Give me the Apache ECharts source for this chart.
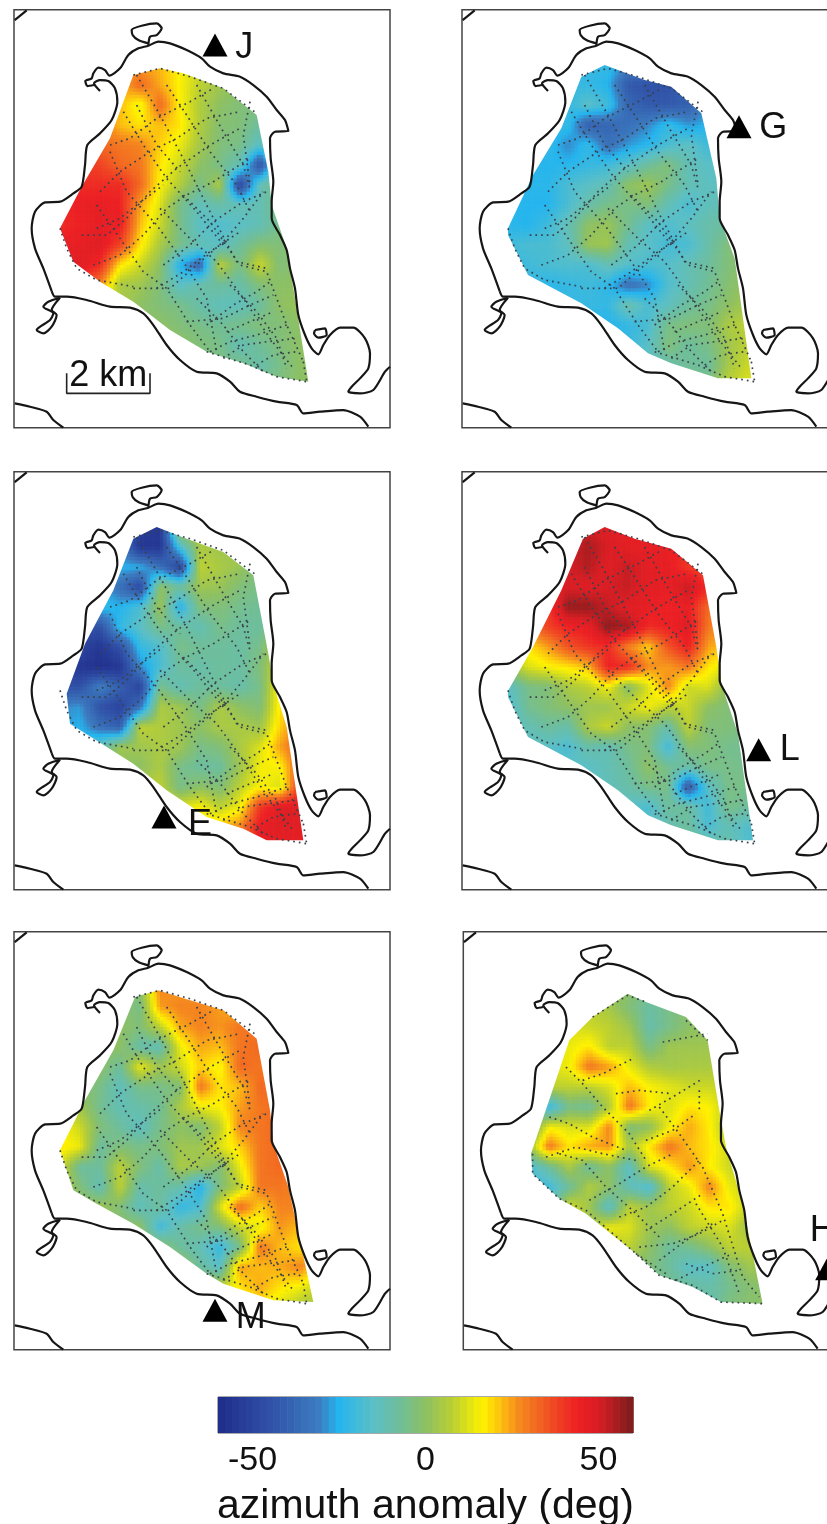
<!DOCTYPE html>
<html><head><meta charset="utf-8">
<style>html,body{margin:0;padding:0;background:#fff;overflow:hidden}#c{width:827px;height:1524px}</style>
<script src="https://cdn.jsdelivr.net/npm/echarts@6/dist/echarts.min.js"></script>
</head><body><div id="c"></div>
<script>
const n = null;
// Grid node positions of the sampled field (map units)
const nodeX = [150,210,270,330,390,450,510,570,630,690,750,810,870,930];
const nodeY = [180,240,300,360,420,480,540,600,660,720,780,840,900,960,1020,1080,1140];

// azimuth anomaly (deg)
const fieldJ = [
[n,n,n,n,25,22,16,10,n,n,n,n,n,n],
[n,n,n,22,32,24,16,8,3,0,n,n,n,n],
[n,n,n,22,14,32,16,6,0,-3,-3,n,n,n],
[n,n,30,22,18,22,18,6,-2,-3,-8,-3,n,n],
[n,n,32,30,28,20,14,4,-3,-5,-15,-3,n,n],
[n,40,38,32,30,18,10,0,-5,-12,-45,-3,n,n],
[n,42,42,42,32,16,6,-5,5,-50,-12,-3,n,n],
[42,45,46,44,25,12,-5,-13,-10,-12,-12,-3,n,n],
[42,44,46,45,22,10,-5,-15,-17,-15,-12,-5,0,n],
[45,46,48,38,18,5,-5,-12,-15,-8,-2,-3,0,n],
[n,48,42,18,10,0,-25,-38,8,-5,10,-3,0,n],
[n,n,28,5,3,-3,-15,-10,-8,-10,-3,0,0,n],
[n,n,n,5,0,-3,-5,-10,-13,-13,-8,0,2,n],
[n,n,n,n,0,0,-3,-5,-7,-5,-3,-3,0,n],
[n,n,n,n,n,0,0,-3,-5,-12,-7,-3,0,0],
[n,n,n,n,n,n,n,-3,-5,-5,-10,-5,0,0],
[n,n,n,n,n,n,n,n,n,-3,-5,-3,0,0]];
const fieldG = [
[n,n,n,n,-22,-22,-30,-28,n,n,n,n,n,n],
[n,n,n,-22,-22,-25,-42,-45,-45,-38,n,n,n,n],
[n,n,n,-22,-15,-20,-38,-42,-42,-40,-30,n,n,n],
[n,n,-22,-22,-40,-38,-35,-30,-22,-28,-25,n,n,n],
[n,n,-22,-30,-22,-35,-28,-24,-18,-14,-20,-18,n,n],
[n,-24,-25,-24,-22,-20,-15,-8,-3,-12,-15,-15,n,n],
[n,-24,-24,-18,-15,-12,0,3,-5,-12,-14,-14,n,n],
[-24,-25,-25,-18,-10,-5,-5,-3,-12,-18,-13,-12,n,n],
[-24,-25,-20,-12,0,2,-6,-15,-17,-14,-10,-8,n,n],
[-20,-18,-18,-14,2,3,-12,-15,-19,-18,-10,-3,n,n],
[-22,-20,-18,-17,-18,-12,-16,-18,-16,-12,-8,-3,0,n],
[n,-22,-24,-22,-20,-23,-35,-30,-17,-12,-7,-2,2,n],
[n,n,n,-22,-22,-22,-10,-18,-14,-8,-5,0,4,n],
[n,n,n,n,-24,-25,-22,-18,-5,-3,-3,5,8,n],
[n,n,n,n,n,-24,-22,-15,-3,-8,-5,3,8,n],
[n,n,n,n,n,n,-20,-15,-10,-7,-8,4,10,n],
[n,n,n,n,n,n,n,n,-8,-6,-4,8,12,n]];
const fieldE = [
[n,n,n,n,-52,-55,8,8,n,n,n,n,n,n],
[n,n,n,-30,-55,-55,-18,5,3,3,n,n,n,n],
[n,n,n,-25,-25,-35,-50,8,5,2,-3,n,n,n],
[n,n,-25,-35,-48,0,-8,3,2,-3,-5,n,n,n],
[n,n,-22,-25,-18,3,-25,-3,-3,-6,-7,n,n,n],
[n,-45,-45,-22,-15,-5,-8,-12,-5,-8,-8,n,n,n],
[n,-50,-55,-45,-22,-17,-5,-7,-8,-9,-5,10,n,n],
[-50,-55,-58,-55,-30,-18,-8,-10,-8,-9,-3,12,n,n],
[-45,-45,-30,-40,-50,-5,-12,-8,-8,-10,-5,18,25,n],
[-30,-28,-45,-50,-35,5,3,-5,5,0,-3,18,28,n],
[-28,-25,-35,-40,8,6,3,0,5,5,3,20,30,n],
[n,-22,-12,3,3,5,3,-5,-3,5,12,25,33,n],
[n,n,n,0,0,5,-5,-8,-8,3,15,16,35,n],
[n,n,n,n,5,8,-5,0,-3,8,16,12,40,n],
[n,n,n,n,n,10,12,16,8,15,40,48,48,n],
[n,n,n,n,n,n,15,18,22,28,46,48,47,n],
[n,n,n,n,n,n,n,n,n,28,46,46,46,n]];
const fieldL = [
[n,n,n,n,50,48,46,46,n,n,n,n,n,n],
[n,n,n,50,55,50,47,46,45,42,n,n,n,n],
[n,n,n,50,54,48,52,47,46,40,35,n,n,n],
[n,n,45,50,48,50,52,47,46,52,42,30,n,n],
[n,n,40,57,57,52,48,46,44,45,32,28,n,n],
[n,30,38,44,46,58,55,42,44,48,30,25,n,n],
[n,18,25,35,40,42,28,20,35,44,25,20,n,n],
[2,12,16,18,22,44,42,27,25,30,18,12,n,n],
[-15,-5,-3,5,8,15,-2,12,28,10,12,0,n,n],
[-18,-6,-3,0,3,3,10,15,8,10,0,-3,n,n],
[-16,-12,-8,-10,5,10,0,-2,-10,8,-3,-3,-5,n],
[n,-15,-15,-18,-10,-12,-5,-3,-20,-2,-3,-6,-6,n],
[n,n,n,-15,-15,-12,-8,0,-6,-10,-5,-5,-6,n],
[n,n,n,n,-14,-13,-10,-5,-5,-42,-15,-5,-5,n],
[n,n,n,n,n,-15,-15,-18,-8,-8,-20,-5,-8,n],
[n,n,n,n,n,n,-15,-15,-12,-8,-18,-12,-17,n],
[n,n,n,n,n,n,n,n,-12,-8,-8,-10,-17,n]];
const fieldM = [
[n,n,n,n,0,28,25,25,n,n,n,n,n,n],
[n,n,n,0,-5,25,28,28,25,22,n,n,n,n],
[n,n,n,0,-3,8,24,28,26,30,30,n,n,n],
[n,n,0,0,-10,-12,14,24,22,30,32,30,n,n],
[n,n,0,-8,14,3,10,20,15,32,30,30,n,n],
[n,0,-5,-13,-5,-5,-3,30,18,22,32,30,n,n],
[n,3,-6,-12,-10,-7,5,14,16,25,30,32,n,n],
[16,10,-3,-8,-14,-5,0,-3,8,28,30,32,n,n],
[18,14,-8,-3,-5,-3,3,3,12,20,30,32,n,n],
[12,-8,-8,8,-3,-10,5,3,-3,14,30,32,n,n],
[8,-3,-12,8,-10,-8,-10,-25,-3,8,30,30,28,n],
[n,3,3,-3,-13,-8,-22,-18,12,32,20,28,28,n],
[n,n,n,0,0,-20,-10,-5,-3,10,14,26,22,n],
[n,n,n,n,0,0,-8,-12,-22,-5,30,22,18,n],
[n,n,n,n,n,3,3,-8,-15,25,22,24,28,n],
[n,n,n,n,n,n,5,5,8,18,24,18,15,8],
[n,n,n,n,n,n,n,n,8,14,16,12,5,3]];
const fieldH = [
[n,n,n,n,n,2,0,-3,-3,n,n,n,n,n],
[n,n,n,n,8,4,-3,-9,-5,-2,n,n,n,n],
[n,n,n,12,10,8,3,-10,-5,0,0,n,n,n],
[n,n,n,14,18,8,8,-5,3,3,3,n,n,n],
[n,n,12,15,30,25,14,6,4,5,5,n,n,n],
[n,n,8,8,8,12,22,16,13,10,10,8,n,n],
[n,0,-22,-5,-7,6,30,17,12,18,16,8,n,n],
[n,-8,15,12,12,28,-3,0,15,24,17,5,n,n],
[n,3,30,18,24,26,5,18,30,22,18,10,n,n],
[n,-18,-8,5,-8,0,-15,12,17,26,17,10,5,n],
[n,-20,-20,-8,6,0,-12,-18,8,14,28,14,8,n],
[n,n,-15,12,3,-15,8,3,8,10,18,18,8,n],
[n,n,n,5,5,14,12,3,0,8,10,12,3,n],
[n,n,n,n,n,8,8,0,-8,-6,0,8,8,n],
[n,n,n,n,n,n,0,-3,-8,-15,-15,-3,3,3],
[n,n,n,n,n,n,n,-3,-5,-8,-10,-6,-2,0],
[n,n,n,n,n,n,n,n,n,-8,-12,-3,-1,0]];

// outline of the sampled area in each panel
const hullJ = [[370,210],[450,190],[520,205],[640,250],[740,330],[775,500],[785,600],[830,730],[855,880],[895,1130],[800,1115],[700,1075],[590,1040],[480,975],[370,890],[270,830],[190,770],[150,670],[215,545],[300,400]];
const hullG = [[370,215],[440,180],[560,225],[640,245],[730,325],[775,520],[785,640],[830,760],[880,1120],[780,1120],[640,1075],[570,1045],[480,970],[370,895],[210,810],[145,680],[225,510],[310,370]];
const hullE = [[370,215],[440,180],[530,215],[640,255],[730,325],[775,560],[790,650],[830,780],[880,1120],[770,1120],[700,1085],[590,1050],[470,970],[370,890],[180,770],[170,680],[225,530],[310,370]];
const hullL = [[375,215],[440,180],[530,215],[640,245],[735,325],[775,540],[790,650],[840,800],[885,1120],[780,1120],[640,1075],[570,1045],[480,970],[370,895],[210,810],[145,680],[225,540],[310,370]];
const hullM = [[375,210],[445,190],[540,220],[640,250],[740,335],[780,550],[790,650],[835,780],[910,1125],[790,1120],[640,1070],[590,1040],[480,960],[370,890],[260,830],[190,790],[150,670],[225,520],[310,370]];
const hullH = [[400,270],[505,200],[560,225],[680,270],[745,340],[780,550],[800,660],[850,830],[910,1130],[785,1125],[700,1080],[600,1045],[530,980],[380,860],[300,815],[220,740],[215,680],[300,430],[330,340]];

// coastline pieces
const coastNorth = [[125,858],[100,790],[75,730],[65,670],[75,620],[105,592],[150,590],[190,565],[215,545],[225,480],[232,420],[270,385],[305,345],[322,290],[315,250],[295,228],[270,225],[252,235],[270,258]];
const coastHook = [[252,240],[232,243],[226,228],[245,220],[250,205],[265,188],[285,195],[298,212],[330,190],[355,150],[385,130],[415,122],[445,110],[480,115],[530,135],[575,160],[600,185],[640,205],[690,215],[730,240],[770,275],[800,315],[825,345],[835,378],[795,380],[780,400],[782,460],[790,530],[785,590],[785,640],[810,690],[830,735],[840,790],[855,850],[865,930],[885,990],[905,1030],[925,1048],[940,1020],[960,990],[990,968],[1030,968],[1065,1000],[1080,1045],[1075,1090],[1050,1120],[1025,1145],[1015,1160],[1050,1165],[1090,1155],[1125,1100],[1140,1085]];
const coastIsland = [[415,122],[420,95],[440,90],[455,70],[440,55],[395,62],[365,75],[368,90],[385,105],[415,115]];
const coastSouth = [[125,858],[135,875],[170,875],[230,885],[300,905],[360,908],[400,925],[430,960],[470,1020],[510,1065],[560,1100],[620,1105],[660,1130],[690,1160],[740,1175],[800,1190],[860,1200],[880,1225],[930,1220],[1000,1215],[1050,1235],[1075,1265]];
const coastWestIsland = [[150,878],[115,890],[100,905],[130,925],[120,945],[80,975],[100,985],[125,965],[140,930],[125,915],[150,878]];
const coastEastIsland = [[915,975],[945,970],[950,990],[925,998],[912,985],[915,975]];
const coastCornerNW = [[14,45],[50,16]];
const coastCornerSW = [[14,1195],[60,1205],[110,1220],[130,1245],[160,1268]];
const coastPieces = [coastNorth,coastHook,coastIsland,coastSouth,coastWestIsland,coastEastIsland,coastCornerNW,coastCornerSW];

// ship tracks
const tracksMain = [
[[215,690],[290,690],[350,640],[420,560],[500,490],[600,420],[690,370]],
[[250,780],[330,750],[400,690],[470,610],[530,570],[610,530],[720,460]],
[[370,850],[480,850],[560,780],[640,710],[700,640],[760,560]],
[[530,950],[640,940],[720,900],[790,870]],
[[600,1040],[660,1010],[740,990],[830,960]],
[[270,560],[330,500],[420,440],[500,400],[590,340],[690,320]],
[[300,420],[360,400],[440,340],[540,290],[610,250]],
[[380,210],[450,330],[530,480],[600,620],[680,770],[770,790]],
[[300,440],[350,560],[440,660],[520,770],[590,880],[620,1040]],
[[260,600],[330,700],[400,800],[470,850],[540,960],[600,1040]],
[[560,240],[640,380],[700,480],[720,550]],
[[450,610],[540,700],[620,770],[700,880],[780,1000],[850,1090]],
[[520,570],[600,650],[690,780],[770,800],[830,960],[880,1070]],
[[720,290],[700,390],[720,540]],
[[150,670],[170,730],[200,790],[260,825],[370,845]],
[[370,210],[450,190],[540,215],[640,250],[740,325]],
[[590,1040],[720,1080],[800,1115],[890,1130]],
[[880,1070],[890,1130]],
[[260,670],[330,640],[380,600],[460,540]],
[[440,850],[520,800],[600,740],[690,680]],
[[460,780],[540,720],[610,650],[700,590],[770,560]],
[[590,960],[670,900],[740,860],[780,830]],
[[640,1060],[700,1020],[770,1010],[860,1000]],
[[740,1080],[790,1050],[860,1040]],
[[650,980],[720,950],[790,920]],
[[470,240],[530,330],[600,440],[680,540],[720,620]],
[[340,320],[400,420],[470,520],[560,620],[640,720]],
[[560,880],[640,960],[700,1040],[760,1100]],
[[660,840],[740,920],[800,1000],[830,1090]],
[[380,300],[440,420],[510,500]]];
const tracksH = [
[[400,270],[505,205],[560,225]],[[680,280],[745,340]],[[610,345],[745,320]],
[[220,680],[220,740],[300,815],[380,850],[530,980],[600,1045],[700,1075],[785,1125],[910,1130]],
[[320,420],[370,470],[430,540],[510,620],[560,700]],
[[370,460],[430,440],[520,395]],[[470,500],[540,490],[640,500]],
[[570,550],[640,510],[730,455]],
[[270,570],[330,590],[400,630],[500,670]],
[[560,640],[640,610],[710,560]],
[[300,680],[370,700],[440,780],[520,850],[600,930]],
[[390,820],[480,770],[560,720],[640,680]],
[[480,870],[560,840],[640,780],[720,700]],
[[560,910],[640,860],[730,800]],
[[540,960],[640,950],[720,920],[790,880]],
[[600,540],[660,620],[730,720],[790,860],[850,1050],[900,1110]],
[[680,1010],[760,1040],[840,1030]],[[720,490],[720,550]],
[[600,1000],[680,940],[760,890]],[[650,1060],[730,1020],[820,980]],
[[530,980],[620,1040]],[[710,830],[790,960],[840,1100]],[[260,690],[350,660],[430,680],[530,700]]];

// stations
const stations = [[615,120],[843,365],[462,1050],[902,848],[615,1150],[1105,1025]];
const stationNames = ['J','G','E','L','M','H'];
const stationTextAt = [[703,130],[946,370],[570,1075],[995,850],[722,1172],[1090,912]];

// colour scale
const scaleValues = [-60,-46,-31,-25,-15,-7.5,0,8,16.5,21,27,36,44,50,60];
const scaleColors = ['#1f2c8a','#2f4ea5','#3c7cc0','#25b5ee','#5bbfc5','#6fbe9a','#8dc063','#bcd030','#fff200','#fdc70e','#f58a1e','#f04e23','#ed2024','#d81e24','#7a1c1c'];
const scaleTicks = [-50,0,50];
const scaleTitle = 'azimuth anomaly (deg)';
const barLabel = '2 km';
const barShape = [[170,1105],[170,1165],[420,1165],[420,1105]];

function colorOf(v){
  if(v<=scaleValues[0]) return scaleColors[0];
  for(let i=1;i<scaleValues.length;i++){
    if(v<=scaleValues[i]){
      const t=(v-scaleValues[i-1])/(scaleValues[i]-scaleValues[i-1]);
      return echarts.color.lerp(t,[scaleColors[i-1],scaleColors[i]]);
    }
  }
  return scaleColors[scaleColors.length-1];
}
const panels = [
 {left:14,top:9.7,field:fieldJ,hull:hullJ,tracks:tracksMain},
 {left:462,top:9.7,field:fieldG,hull:hullG,tracks:tracksMain},
 {left:14,top:471.7,field:fieldE,hull:hullE,tracks:tracksMain},
 {left:462,top:471.7,field:fieldL,hull:hullL,tracks:tracksMain},
 {left:14,top:931.7,field:fieldM,hull:hullM,tracks:tracksMain},
 {left:463.3,top:931.7,field:fieldH,hull:hullH,tracks:tracksH}
];
const grids=[],xAxes=[],yAxes=[],series=[];
const SUB=6;
function shade(params,api){
  const x0=api.value(0),y0=api.value(1),x1=api.value(2),y1=api.value(3);
  const a=api.value(4),b=api.value(5),c=api.value(6),d=api.value(7);
  const p0=api.coord([x0,y0]),p1=api.coord([x1,y1]);
  const w=(p1[0]-p0[0])/SUB,h=(p1[1]-p0[1])/SUB,children=[];
  for(let j=0;j<SUB;j++)for(let i=0;i<SUB;i++){
    const s=(i+.5)/SUB,t=(j+.5)/SUB;
    const v=(a*(1-s)+b*s)*(1-t)+(c*(1-s)+d*s)*t;
    children.push({type:'rect',shape:{x:p0[0]+i*w,y:p0[1]+j*h,width:w+.6,height:h+.6},style:{fill:colorOf(v)}});
  }
  return {type:'group',children};
}
panels.forEach((p,k)=>{
  grids.push({left:p.left,top:p.top,width:376,height:418,show:true,borderColor:'#444',borderWidth:1.5,backgroundColor:'transparent',outerBoundsMode:'none'});
  xAxes.push({gridIndex:k,type:'value',min:12,max:1140,show:false});
  yAxes.push({gridIndex:k,type:'value',min:14,max:1268,inverse:true,show:false});
  const cells=[];
  for(let j=0;j<nodeY.length-1;j++)for(let i=0;i<nodeX.length-1;i++){
    const q=[p.field[j][i],p.field[j][i+1],p.field[j+1][i],p.field[j+1][i+1]];
    const ok=q.filter(v=>v!==null);
    if(!ok.length) continue;
    const m=ok.reduce((s,v)=>s+v,0)/ok.length;
    const r=q.map(v=>v===null?m:v);
    cells.push([nodeX[i],nodeY[j],nodeX[i+1],nodeY[j+1],r[0],r[1],r[2],r[3]]);
  }
  series.push({type:'custom',xAxisIndex:k,yAxisIndex:k,z:1,silent:true,renderItem:shade,encode:{x:[0,2],y:[1,3]},data:cells,animation:false});
  series.push({type:'custom',xAxisIndex:k,yAxisIndex:k,z:2,silent:true,data:[[500,500]],encode:{x:0,y:1},animation:false,clip:false,
    renderItem:(params,api)=>{
      const outer=[[100,140],[1000,140],[1000,1180],[100,1180]].map(c=>api.coord(c));
      const inner=p.hull.concat([p.hull[0]]).map(c=>api.coord(c));
      return {type:'polygon',shape:{points:[outer[0],...inner,outer[0],outer[3],outer[2],outer[1]]},style:{fill:'#fff'}};
    }});
  p.tracks.forEach(t=>series.push({type:'line',xAxisIndex:k,yAxisIndex:k,z:3,silent:true,showSymbol:false,symbol:'none',animation:false,data:t,
    lineStyle:{color:'#39414c',width:1.7,type:[1.7,4],cap:'butt'}}));
  coastPieces.forEach(c=>series.push({type:'line',xAxisIndex:k,yAxisIndex:k,z:4,silent:true,showSymbol:false,symbol:'none',animation:false,smooth:.25,data:c,
    lineStyle:{color:'#161616',width:2.2}}));
  series.push({type:'scatter',xAxisIndex:k,yAxisIndex:k,z:6,silent:true,symbol:'triangle',symbolSize:[25,23],itemStyle:{color:'#000',opacity:1},data:[stations[k]],animation:false,clip:false});
  series.push({type:'scatter',xAxisIndex:k,yAxisIndex:k,z:7,silent:true,symbolSize:1,itemStyle:{color:'rgba(0,0,0,0)',opacity:1},animation:false,clip:false,
    data:[{value:stationTextAt[k],label:{show:true,position:'inside',formatter:stationNames[k],fontFamily:'Liberation Sans',fontSize:36,color:'#111'}}]});
});
// scale bar in the first panel
series.push({type:'line',xAxisIndex:0,yAxisIndex:0,z:5,silent:true,showSymbol:false,symbol:'none',animation:false,data:barShape,lineStyle:{color:'#222',width:1.6}});
series.push({type:'scatter',xAxisIndex:0,yAxisIndex:0,z:7,silent:true,symbolSize:1,itemStyle:{color:'rgba(0,0,0,0)',opacity:1},animation:false,
  data:[{value:[295,1112],label:{show:true,position:'inside',formatter:barLabel,fontFamily:'Liberation Sans',fontSize:36,color:'#111'}}]});
// colour bar
const cbi=panels.length;
grids.push({left:218,top:1397,width:415,height:36,show:true,borderColor:'#555',borderWidth:1,backgroundColor:'transparent',outerBoundsMode:'none'});
xAxes.push({gridIndex:cbi,type:'value',min:-60,max:60,
  axisLine:{show:false},splitLine:{show:false},
  axisTick:{show:true,inside:true,length:2,customValues:scaleTicks,lineStyle:{color:'#333'}},
  axisLabel:{show:true,customValues:scaleTicks,fontFamily:'Liberation Sans',fontSize:34,color:'#111',margin:11,showMinLabel:true,showMaxLabel:true},
  name:scaleTitle,nameLocation:'middle',nameGap:53,nameTextStyle:{fontFamily:'Liberation Sans',fontSize:41,color:'#111'}});
yAxes.push({gridIndex:cbi,type:'value',min:0,max:1,show:false});
const levels=[];for(let v=-60;v<60;v+=2)levels.push([v,v+2]);
series.push({type:'custom',xAxisIndex:cbi,yAxisIndex:cbi,z:1,silent:true,animation:false,data:levels,encode:{x:[0,1]},
  renderItem:(params,api)=>{
    const a=api.coord([api.value(0),1]),b=api.coord([api.value(1),0]);
    return {type:'rect',shape:{x:a[0],y:a[1],width:b[0]-a[0]+.6,height:b[1]-a[1]},style:{fill:colorOf((api.value(0)+api.value(1))/2)}};
  }});
const chart=echarts.init(document.getElementById('c'),null,{renderer:'canvas',width:827,height:1524});
chart.setOption({animation:false,backgroundColor:'#fff',grid:grids,xAxis:xAxes,yAxis:yAxes,series});
</script></body></html>
